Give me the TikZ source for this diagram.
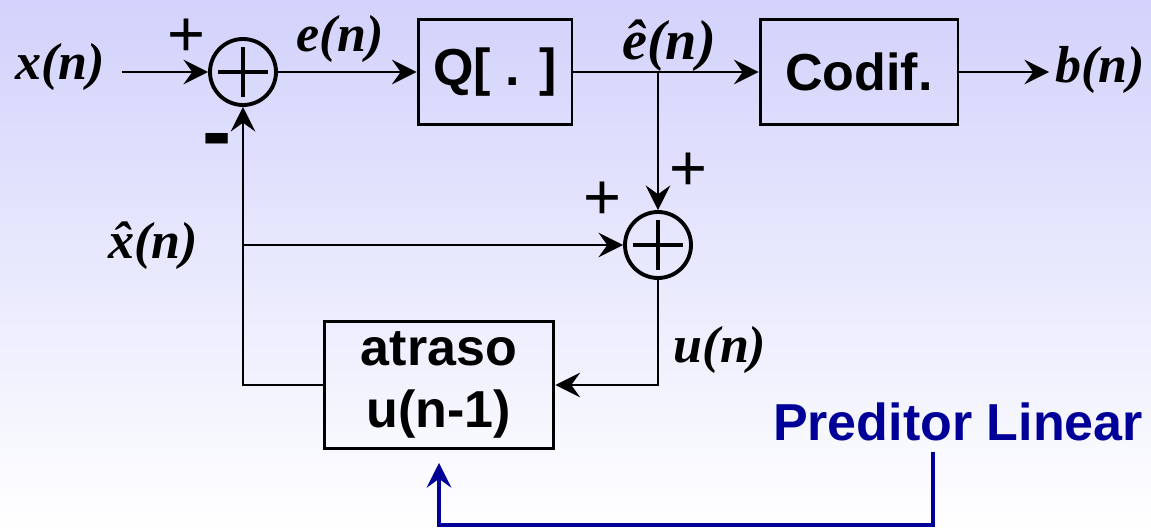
\documentclass[tikz,border=0pt]{standalone}
\usepackage{fontspec}
\setmainfont{Liberation Serif}
\setsansfont{Liberation Sans}
\usetikzlibrary{arrows.meta,calc}
\definecolor{lavender}{HTML}{D2D2FC}
\definecolor{predblue}{HTML}{000099}

\begin{document}
\begin{tikzpicture}[x=0.02cm,y=-0.02cm,>={Stealth[length=14pt,width=14pt,inset=5pt]},
  blk/.style={draw,line width=1.7pt,font=\sffamily\bfseries\fontsize{29.6}{35}\selectfont,align=center},
  sig/.style={font=\bfseries\itshape\fontsize{29.6}{35}\selectfont,anchor=base},
  sgn/.style={font=\sffamily\fontsize{37}{40}\selectfont},
  summ/.style={circle,draw,line width=2.2pt,minimum size=1.32cm,inner sep=0pt,
    path picture={\draw[line width=2.2pt] (path picture bounding box.center) ++(-0.5cm,0pt) -- ++(1cm,0pt)
      (path picture bounding box.center) ++(0pt,-0.5cm) -- ++(0pt,1cm);}},
  conn/.style={line width=1.5pt}]
  \path[use as bounding box] (0,0) rectangle (1151,530);
  \shade[top color=lavender,bottom color=white] (0,0) rectangle (1151,530);

  % blocks
  \node[summ] (sum1) at (243,72) {};
  \node[summ] (sum2) at (658,245) {};
  \node[blk,minimum width=3.08cm,minimum height=2.1cm] (quant) at (495,72) {Q[ . ]};
  \node[blk,minimum width=3.96cm,minimum height=2.1cm] (codif) at (859,72) {Codif.};
  \node[blk,minimum width=4.6cm,minimum height=2.54cm] (atraso) at (439,385) {atraso\\u(n-1)};

  % signals
  \node[sig] (xin) at (60,80) {x(n)};
  \node[sig] (en) at (340,52) {e(n)};
  \node[sig,font=\bfseries\itshape\fontsize{32}{36}\selectfont] (ehat) at (669,60) {\accent"02C6 e(n)};
  \node[sig] (bout) at (1100,83) {b(n)};
  \node[sig] (xhat) at (153,258) {\accent"02C6 x(n)};
  \node[sig] (un) at (720,362) {u(n)};

  % signs
  \node[sgn] (p1) at (186,38) {+};
  \node[sgn] (p2) at (602,201) {+};
  \node[sgn] (p3) at (688,172) {+};
  \node[font=\sffamily\bfseries\fontsize{50}{50}\selectfont] (m1) at (217,147) {-};
  \node[font=\sffamily\bfseries\fontsize{29.6}{35}\selectfont,text=predblue,anchor=base] (pred) at (958,440) {Preditor Linear};

  % connections
  \draw[conn,->,shorten <=6pt] (xin.east |- sum1.west) -- (sum1.west);
  \draw[conn,->] (sum1.east) -- (quant.west);
  \draw[conn,->] (quant.east) -- (codif.west);
  \draw[conn,->] (codif.east) -- (bout.west |- codif.east);
  \coordinate (tap) at (sum2.north |- quant.east);
  \draw[conn,->] (tap) -- (sum2.north);
  \draw[conn,->] (sum2.south) |- (atraso.east);
  \draw[conn,->] (atraso.west) -| (sum1.south);
  \coordinate (tapx) at (sum1.south |- sum2.west);
  \draw[conn,->] (tapx) -- (sum2.west);

  \coordinate (predtap) at (933,452);
  \draw[predblue,line width=2.3pt,->] (predtap) -- ++(0,73) -| ([yshift=-7.4pt]atraso.south);
\end{tikzpicture}
\end{document}
